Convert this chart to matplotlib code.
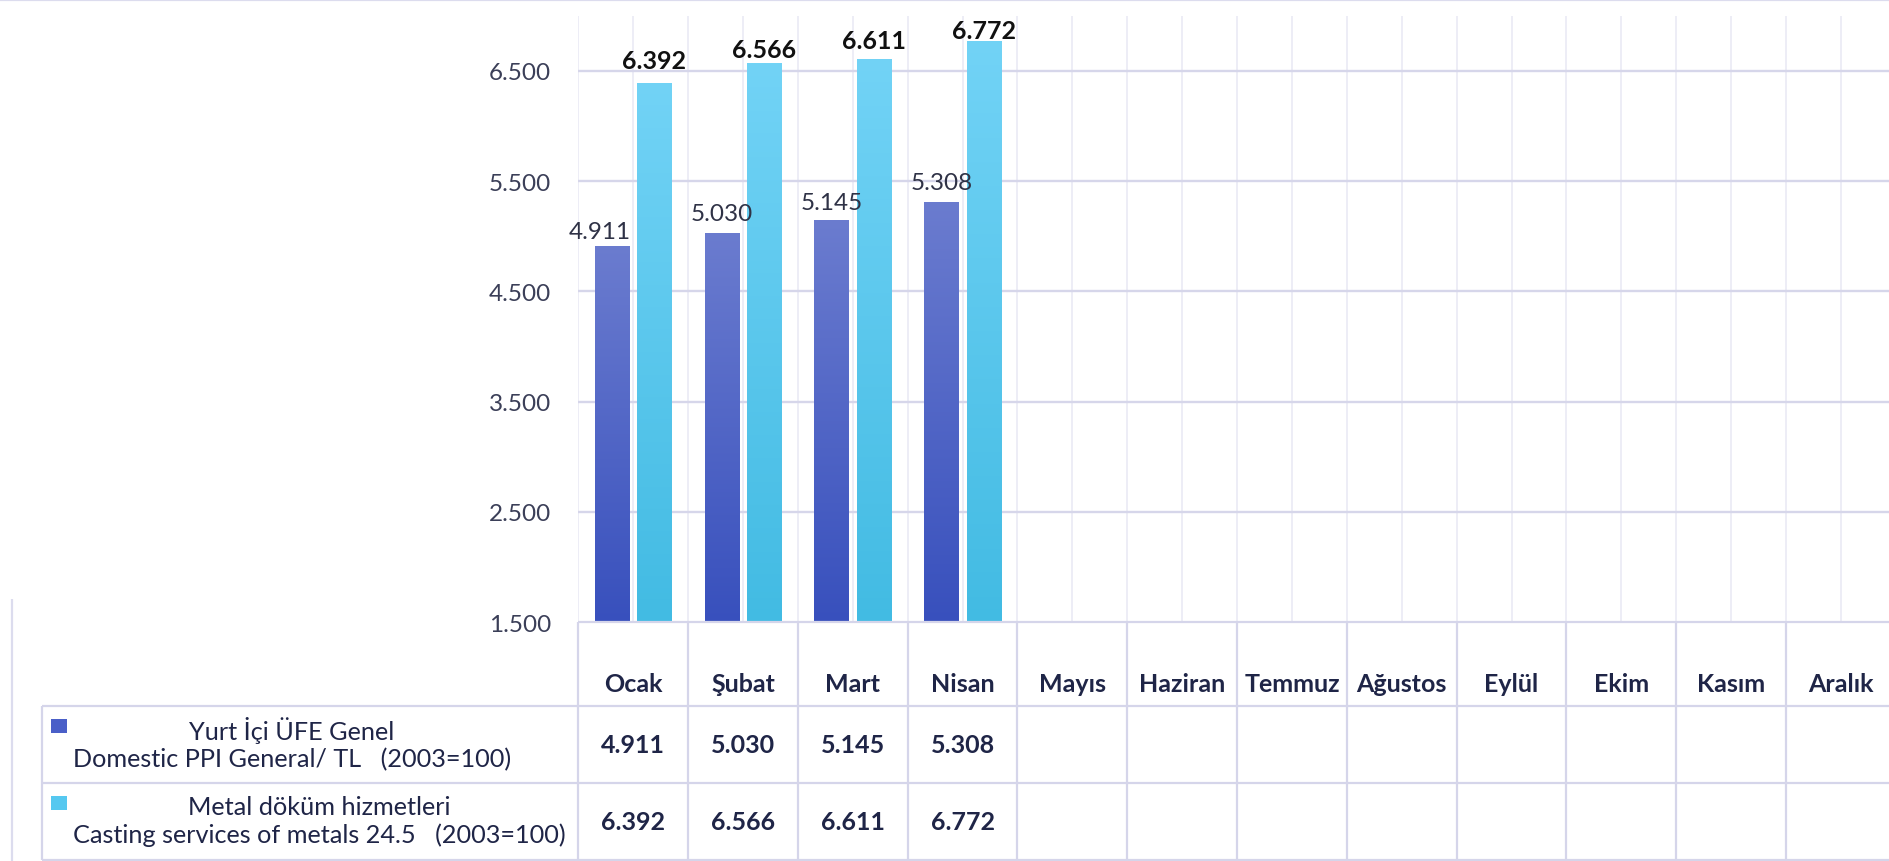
import matplotlib
matplotlib.use("Agg")
import matplotlib.pyplot as plt
import matplotlib.transforms as mtransforms
from matplotlib.colors import LinearSegmentedColormap
from matplotlib.lines import Line2D
from matplotlib.patches import Rectangle
import numpy as np

# ---------------- data ----------------
months = ["Ocak", "Şubat", "Mart", "Nisan", "Mayıs", "Haziran", "Temmuz",
          "Ağustos", "Eylül", "Ekim", "Kasım", "Aralık"]
ppi_general = [4911, 5030, 5145, 5308]
casting_metals = [6392, 6566, 6611, 6772]
series_names = ["Yurt İçi ÜFE Genel\nDomestic PPI General/ TL   (2003=100)",
                "Metal döküm hizmetleri\nCasting services of metals 24.5   (2003=100)"]
y_ticks = [1500, 2500, 3500, 4500, 5500, 6500]


def fmt(v):
    return f"{v:,}".replace(",", ".")


plt.rcParams["font.family"] = ["Lato", "DejaVu Sans"]

W, H = 1890, 862
fig = plt.figure(figsize=(W / 100, H / 100), dpi=100)
fig.patch.set_facecolor("white")

# plot area in pixel coords (from top-left)
px_left, px_top, px_bottom = 578.3, 16.6, 623.3
cat_w = 109.8
px_right = px_left + 12 * cat_w
ax = fig.add_axes([px_left / W, (H - px_bottom) / H,
                   (px_right - px_left) / W, (px_bottom - px_top) / H])
ax.set_facecolor("white")
for s in ax.spines.values():
    s.set_visible(False)

TEXT = "#1f2547"
TICK = "#3b3f58"
GRID_H = "#d6d6ea"
GRID_V = "#ececf6"
TABLE = "#d5d5ea"

# grid
for yv in y_ticks[1:]:
    ax.axhline(yv, color=GRID_H, lw=1.7, zorder=0.5)
for b in np.arange(-0.5, 12.0, 0.5):
    ax.axvline(b, color=GRID_V, lw=1.3, zorder=0.4)

# bars with gradient
bw = 0.313
off = 0.1926
x = np.arange(len(ppi_general))


def gradient_bars(bars, c_top, c_bot):
    cmap = LinearSegmentedColormap.from_list("g", [c_bot, c_top])
    for r in bars:
        x0 = r.get_x()
        x1 = x0 + r.get_width()
        top = r.get_y() + r.get_height()
        img = ax.imshow(np.linspace(0, 1, 256).reshape(-1, 1),
                        extent=[x0, x1, 1500, top], origin="lower",
                        cmap=cmap, aspect="auto", zorder=2)
        img.set_clip_path(r)


b1 = ax.bar(x - off, ppi_general, bw, color="none", edgecolor="none", zorder=2)
b2 = ax.bar(x + off, casting_metals, bw, color="none", edgecolor="none", zorder=2)
gradient_bars(b1, "#6b7ccf", "#3850bd")
gradient_bars(b2, "#72d3f6", "#42bbe3")

ax.set_xlim(-0.5, 11.5)
ax.set_ylim(1500, 7000)
ax.set_yticks(y_ticks)
ax.set_yticklabels([fmt(v) for v in y_ticks])
ax.set_xticks([])
ax.tick_params(axis="y", length=0, pad=19.5, labelsize=17.5, labelcolor=TICK)

# data labels (offsets in points, as placed in the original)
ppi_label_dx = [-8.5, 0, 0, 0]
ppi_label_dy = [6.0, 9.0, 8.0, 9.5]
cast_label_dy = [10.6, 4.8, 7.6, 2.0]
for i, v in enumerate(ppi_general):
    ax.annotate(fmt(v), (x[i] - off, v), xytext=(ppi_label_dx[i], ppi_label_dy[i]),
                textcoords="offset points", ha="center", va="baseline",
                fontsize=17.5, color="#2f3246", zorder=5)
for i, v in enumerate(casting_metals):
    ax.annotate(fmt(v), (x[i] + off, v), xytext=(0, cast_label_dy[i]),
                textcoords="offset points", ha="center", va="baseline",
                fontsize=18, fontweight="bold", color="#111111", zorder=5)

# ---------------- data table ----------------
T = mtransforms.Affine2D().scale(1 / W, -1 / H).translate(0, 1) + fig.transFigure
bT = mtransforms.blended_transform_factory(ax.transData, T)

row_y = [623.3, 706.7, 784.0, 860.7]
tab_left = 41.7


def pline(xs, ys, tr, color=TABLE, lw=1.6):
    fig.add_artist(Line2D(xs, ys, transform=tr, color=color, lw=lw,
                          solid_capstyle="butt"))


# horizontal lines
pline([-0.5, 11.5], [row_y[0], row_y[0]], bT)
for yy in row_y[1:]:
    pline([tab_left, W], [yy, yy], T)
# vertical lines
pline([tab_left, tab_left], [row_y[1], row_y[3]], T)
for b in np.arange(-0.5, 12.0, 1.0):
    pline([b, b], [row_y[0], row_y[3]], bT)

# outer chart border remnants
pline([0, W], [1, 1], T, color="#dcdcee", lw=1.6)
pline([11.7, 11.7], [600, H], T, color="#dcdcee", lw=1.6)

# month labels
for i, m in enumerate(months):
    ax.text(i, 685, m, transform=bT, ha="center", va="center",
            fontsize=18, fontweight="bold", color=TEXT, clip_on=False)

# values rows
rows = [ppi_general, casting_metals]
for r, vals in enumerate(rows):
    yc = (row_y[r + 1] + row_y[r + 2]) / 2
    for i, v in enumerate(vals):
        ax.text(i, yc, fmt(v), transform=bT, ha="center", va="center",
                fontsize=18, fontweight="bold", color=TEXT, clip_on=False)

# row headers with legend keys
key_colors = ["#4a5fc8", "#55c8f0"]
for r, name in enumerate(series_names):
    top = row_y[r + 1]
    yc = (row_y[r + 1] + row_y[r + 2]) / 2
    fig.add_artist(Rectangle((51, top + 13.5), 15.5, 14, transform=T,
                             facecolor=key_colors[r], edgecolor="none"))
    fig.text(73, yc - 1, name, transform=T, ha="left", va="center",
             multialignment="center", fontsize=18.2, color=TEXT,
             linespacing=1.2)

fig.savefig("out.png", dpi=100, facecolor="white")
